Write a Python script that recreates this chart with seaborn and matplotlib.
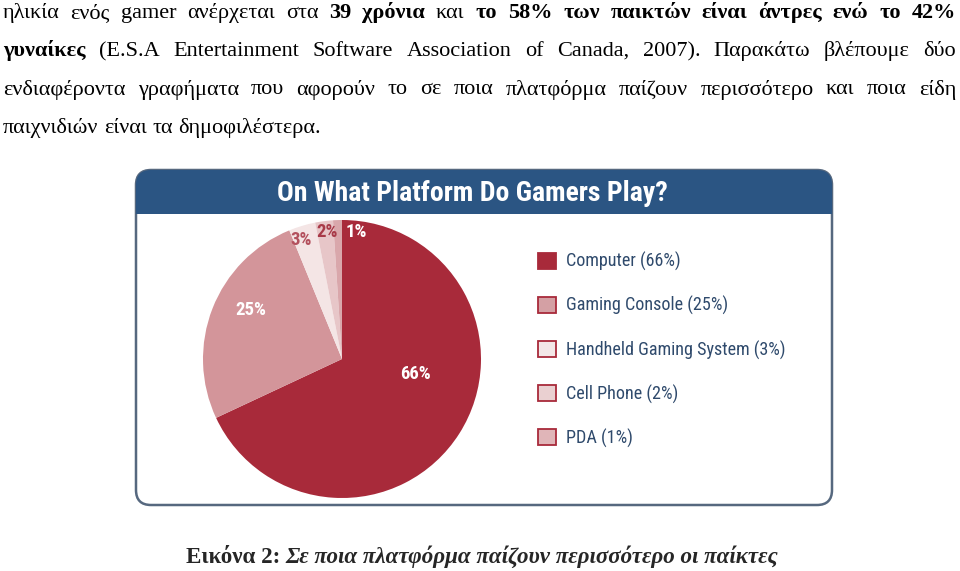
import numpy as np
import pandas as pd
import seaborn as sns
import matplotlib
matplotlib.use("Agg")
import matplotlib.pyplot as plt
from matplotlib import font_manager
from matplotlib.patches import FancyBboxPatch, Rectangle, Patch

# ---------------- data ----------------
platforms = ["Computer", "Gaming Console", "Handheld Gaming System", "Cell Phone", "PDA"]
shares = [66, 25, 3, 2, 1]
slice_colors = ["#a82a3a", "#d3959a", "#f4e5e5", "#e7c6c8", "#d9a7ab"]
legend_colors = ["#a82a3a", "#d4a0a4", "#f3e7e7", "#ead0d1", "#e0b5b8"]
pct_label_colors = ["white", "white", "#b3505d", "#a83a48", "white"]
pct_label_pos = [(0.53, -0.11), (-0.655, 0.353), (-0.295, 0.856), (-0.108, 0.914), (0.10, 0.914)]
chart_title = "On What Platform Do Gamers Play?"

body_lines = [
    [("ηλικία ενός gamer ανέρχεται στα", False), ("39 χρόνια", True), ("και", False),
     ("το 58% των παικτών είναι άντρες ενώ το 42%", True)],
    [("γυναίκες", True),
     ("(E.S.A Entertainment Software Association of Canada, 2007). Παρακάτω βλέπουμε δύο", False)],
    [("ενδιαφέροντα γραφήματα που αφορούν το σε ποια πλατφόρμα παίζουν περισσότερο και ποια είδη", False)],
    [("παιχνιδιών είναι τα δημοφιλέστερα.", False)],
]
body_justify = [True, True, True, False]
caption_head = "Εικόνα 2:"
caption_tail = "Σε ποια πλατφόρμα παίζουν περισσότερο οι παίκτες"

# ---------------- style ----------------
sns.set_theme(style="white")
ttf = font_manager.fontManager.ttflist
names = {f.name for f in ttf}
cond, cond_stretch, condensed = "Liberation Sans", "normal", False
for cand in ["Liberation Sans Narrow", "Roboto Condensed", "Open Sans Condensed",
             "DejaVu Sans Condensed", "Noto Sans Condensed", "Arial Narrow"]:
    if cand in names:
        cond, condensed = cand, True
        break
if not condensed:
    for f in ttf:
        if f.name in ("Roboto", "Open Sans", "Noto Sans", "DejaVu Sans", "Inter") and \
                str(f.stretch) in ("condensed", "semi-condensed", "extra-condensed", "75", "62.5", "87.5"):
            cond, cond_stretch, condensed = f.name, f.stretch, True
            break
scale = 1.0 if condensed else 0.85
serif = ["Liberation Serif", "DejaVu Serif"]
plt.rcParams["font.family"] = [cond, "DejaVu Sans"]


def cfont(size, weight="normal"):
    return dict(family=[cond, "DejaVu Sans"], fontsize=size * scale, fontweight=weight,
                fontstretch=cond_stretch)


W, H = 960, 571
fig = plt.figure(figsize=(W / 100, H / 100), dpi=100)
fig.patch.set_facecolor("white")

ov = fig.add_axes([0, 0, 1, 1])
ov.set_xlim(0, W)
ov.set_ylim(H, 0)
ov.axis("off")

renderer = fig.canvas.get_renderer()

# ---------------- body text (justified) ----------------
body_size = 16
baselines = [18, 56, 94.5, 133]
x_left, x_right = 3, 956
for line, just, yb in zip(body_lines, body_justify, baselines):
    words = []
    for seg, bold in line:
        for w in seg.split(" "):
            words.append((w, bold))
    texts, widths = [], []
    for w, bold in words:
        t = ov.text(0, yb, w, family=serif, fontsize=body_size,
                    fontweight="bold" if bold else "normal", va="baseline", ha="left", color="black")
        texts.append(t)
        widths.append(t.get_window_extent(renderer=renderer).width)
    if just and len(words) > 1:
        gap = (x_right - x_left - sum(widths)) / (len(words) - 1)
    else:
        sp = ov.text(0, 0, "a a", family=serif, fontsize=body_size)
        sp2 = ov.text(0, 0, "aa", family=serif, fontsize=body_size)
        gap = sp.get_window_extent(renderer=renderer).width - sp2.get_window_extent(renderer=renderer).width
        sp.remove(); sp2.remove()
    x = x_left
    for t, wd in zip(texts, widths):
        t.set_x(x)
        x += wd + gap

# ---------------- caption ----------------
cap_size = 16.6
c1 = ov.text(0, 563, caption_head, family=serif, fontsize=cap_size, fontweight="bold",
             va="baseline", ha="left")
c2 = ov.text(0, 563, caption_tail, family=serif, fontsize=cap_size, fontweight="bold",
             style="italic", va="baseline", ha="left")
w1 = c1.get_window_extent(renderer=renderer).width
w2 = c2.get_window_extent(renderer=renderer).width
cap_gap = 6
total = w1 + cap_gap + w2
cx0 = 482 - total / 2
c1.set_x(cx0)
c2.set_x(cx0 + w1 + cap_gap)

# ---------------- chart frame ----------------
fx0, fx1, fy0, fy1 = 136, 832, 170, 505
frame = FancyBboxPatch((fx0, fy0), fx1 - fx0, fy1 - fy0,
                       boxstyle="round,pad=0,rounding_size=15",
                       facecolor="white", edgecolor="#56687f", linewidth=1.8, zorder=1)
ov.add_patch(frame)
header = Rectangle((fx0 - 2, fy0 - 2), fx1 - fx0 + 4, 214 - fy0 + 2,
                   facecolor="#2b5583", edgecolor="none", zorder=2)
ov.add_patch(header)
header.set_clip_path(frame)
ov.text(472, 201, chart_title, color="white", ha="center", va="baseline", zorder=3,
        **cfont(20, "bold"))

# ---------------- pie ----------------
cx, cy, r = 342, 359, 139
ax = fig.add_axes([(cx - r) / W, (H - cy - r) / H, 2 * r / W, 2 * r / H])
df = pd.DataFrame({"platform": platforms, "share": shares, "color": slice_colors})
wedges, _ = ax.pie(df["share"], colors=df["color"], startangle=90, counterclock=False,
                   radius=1, wedgeprops=dict(linewidth=0))
ax.set_xlim(-1, 1)
ax.set_ylim(-1, 1)
ax.axis("off")
for s, (px, py), col in zip(df["share"], pct_label_pos, pct_label_colors):
    ax.text(px, py, f"{s}%", color=col, ha="center", va="center", **cfont(13.5, "bold"))

# ---------------- legend ----------------
leg_fs = 13.1 * scale
leg_fs_px = leg_fs * 100 / 72
row_px = 46.3
text_h = leg_fs_px * 1.17
handles = [Patch(facecolor=c, edgecolor="#a82a3a", linewidth=1.3) for c in legend_colors]
labels = [f"{p} ({s}%)" for p, s in zip(platforms, shares)]
leg = fig.legend(handles, labels, loc="upper left",
                 bbox_to_anchor=(538 / W, 1 - 252 / H), bbox_transform=fig.transFigure,
                 frameon=False, borderpad=0, borderaxespad=0,
                 handlelength=18 / leg_fs_px, handleheight=18 / leg_fs_px,
                 handletextpad=10 / leg_fs_px,
                 labelspacing=(row_px - max(text_h, 18)) / leg_fs_px,
                 prop=font_manager.FontProperties(family=[cond, "DejaVu Sans"], size=leg_fs,
                                                  stretch=cond_stretch))
for t in leg.get_texts():
    t.set_color("#2f4a6c")

fig.savefig("out.png", dpi=100)
